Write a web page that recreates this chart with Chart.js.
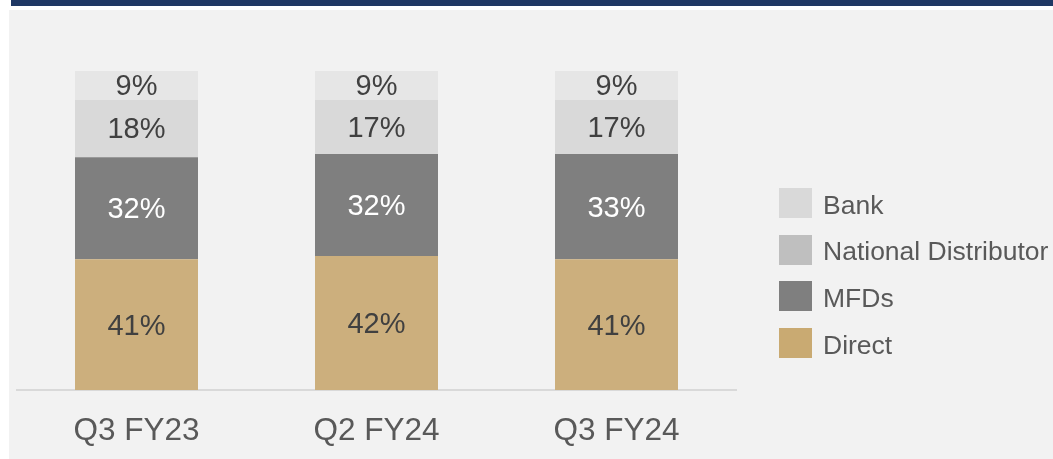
<!DOCTYPE html>
<html>
<head>
<meta charset="utf-8">
<script src="https://cdn.jsdelivr.net/npm/chart.js@4"></script>
<style>
  body { margin: 0; width: 1053px; height: 459px; overflow: hidden; background: #fff; font-family: 'Liberation Sans', Arial, sans-serif; }
  .band { position: absolute; left: 11px; top: 0; right: 0; height: 6px; background: #1f3864; }
  .panel { position: absolute; left: 9px; top: 10px; right: 0; bottom: 0; background: #f2f2f2; }
  .chart-box { position: absolute; left: 0; top: 0; width: 1053px; height: 459px; }
  #legend { position: absolute; left: 779px; top: 188px; }
  #legend .item { display: flex; align-items: center; height: 30px; margin-bottom: 16.7px; }
  #legend .swatch { width: 33px; height: 30px; margin-right: 11px; }
  #legend .text { font-size: 26.5px; color: #595959; line-height: 30px; padding-top: 3px; white-space: nowrap; }
</style>
</head>
<body>
<div class="band"></div>
<div class="panel"></div>
<div class="chart-box"><canvas id="mixChart"></canvas></div>
<div id="legend"></div>
<script>
// Data
const quarters = ['Q3 FY23', 'Q2 FY24', 'Q3 FY24'];
const direct = [41, 42, 41];
const mfds = [32, 32, 33];
const nationalDistributor = [18, 17, 17];
const bank = [9, 9, 9];

const seriesNames = ['Direct', 'MFDs', 'National Distributor', 'Bank'];
const seriesValues = [direct, mfds, nationalDistributor, bank];
const barColors = ['#ccaf7d', '#7f7f7f', '#d9d9d9', '#e6e6e6'];
const legendColors = ['#c9aa72', '#7f7f7f', '#bfbfbf', '#d9d9d9'];
const labelColors = ['#404040', '#ffffff', '#404040', '#404040'];

const font = "'Liberation Sans', Arial, sans-serif";

// draw the % inside each segment
const segmentLabels = {
  id: 'segmentLabels',
  afterDatasetsDraw(chart) {
    const ctx = chart.ctx;
    ctx.save();
    ctx.font = '29px ' + font;
    ctx.textAlign = 'center';
    ctx.textBaseline = 'middle';
    chart.data.datasets.forEach((ds, i) => {
      chart.getDatasetMeta(i).data.forEach((bar, j) => {
        ctx.fillStyle = labelColors[i];
        ctx.fillText(ds.data[j] + '%', bar.x, (bar.y + bar.base) / 2 + 2);
      });
    });
    ctx.restore();
  }
};

const ctx = document.getElementById('mixChart').getContext('2d');
const mixChart = new Chart(ctx, {
  type: 'bar',
  data: {
    labels: quarters,
    datasets: seriesNames.map((name, i) => ({
      label: name,
      data: seriesValues[i],
      backgroundColor: barColors[i],
      borderWidth: 0,
      barPercentage: 0.5125,
      categoryPercentage: 1
    }))
  },
  options: {
    responsive: true,
    maintainAspectRatio: false,
    animation: false,
    layout: { padding: { left: 16.5, right: 316.5, top: 71, bottom: 0 } },
    scales: {
      x: {
        stacked: true,
        grid: { display: false, drawTicks: false },
        border: { display: true, color: '#d9d9d9', width: 2 },
        ticks: { color: '#595959', font: { family: font, size: 31.5 }, padding: 22 },
        afterFit: scale => { scale.height = 69; }
      },
      y: { stacked: true, display: false, min: 0, max: 100 }
    },
    plugins: {
      legend: { display: false },
      tooltip: { enabled: false }
    }
  },
  plugins: [segmentLabels]
});

// legend, top item first
const legendBox = document.getElementById('legend');
for (let i = seriesNames.length - 1; i >= 0; i--) {
  const item = document.createElement('div');
  item.className = 'item';
  const swatch = document.createElement('div');
  swatch.className = 'swatch';
  swatch.style.background = legendColors[i];
  const text = document.createElement('span');
  text.className = 'text';
  text.textContent = seriesNames[i];
  item.appendChild(swatch);
  item.appendChild(text);
  legendBox.appendChild(item);
}
</script>
</body>
</html>
